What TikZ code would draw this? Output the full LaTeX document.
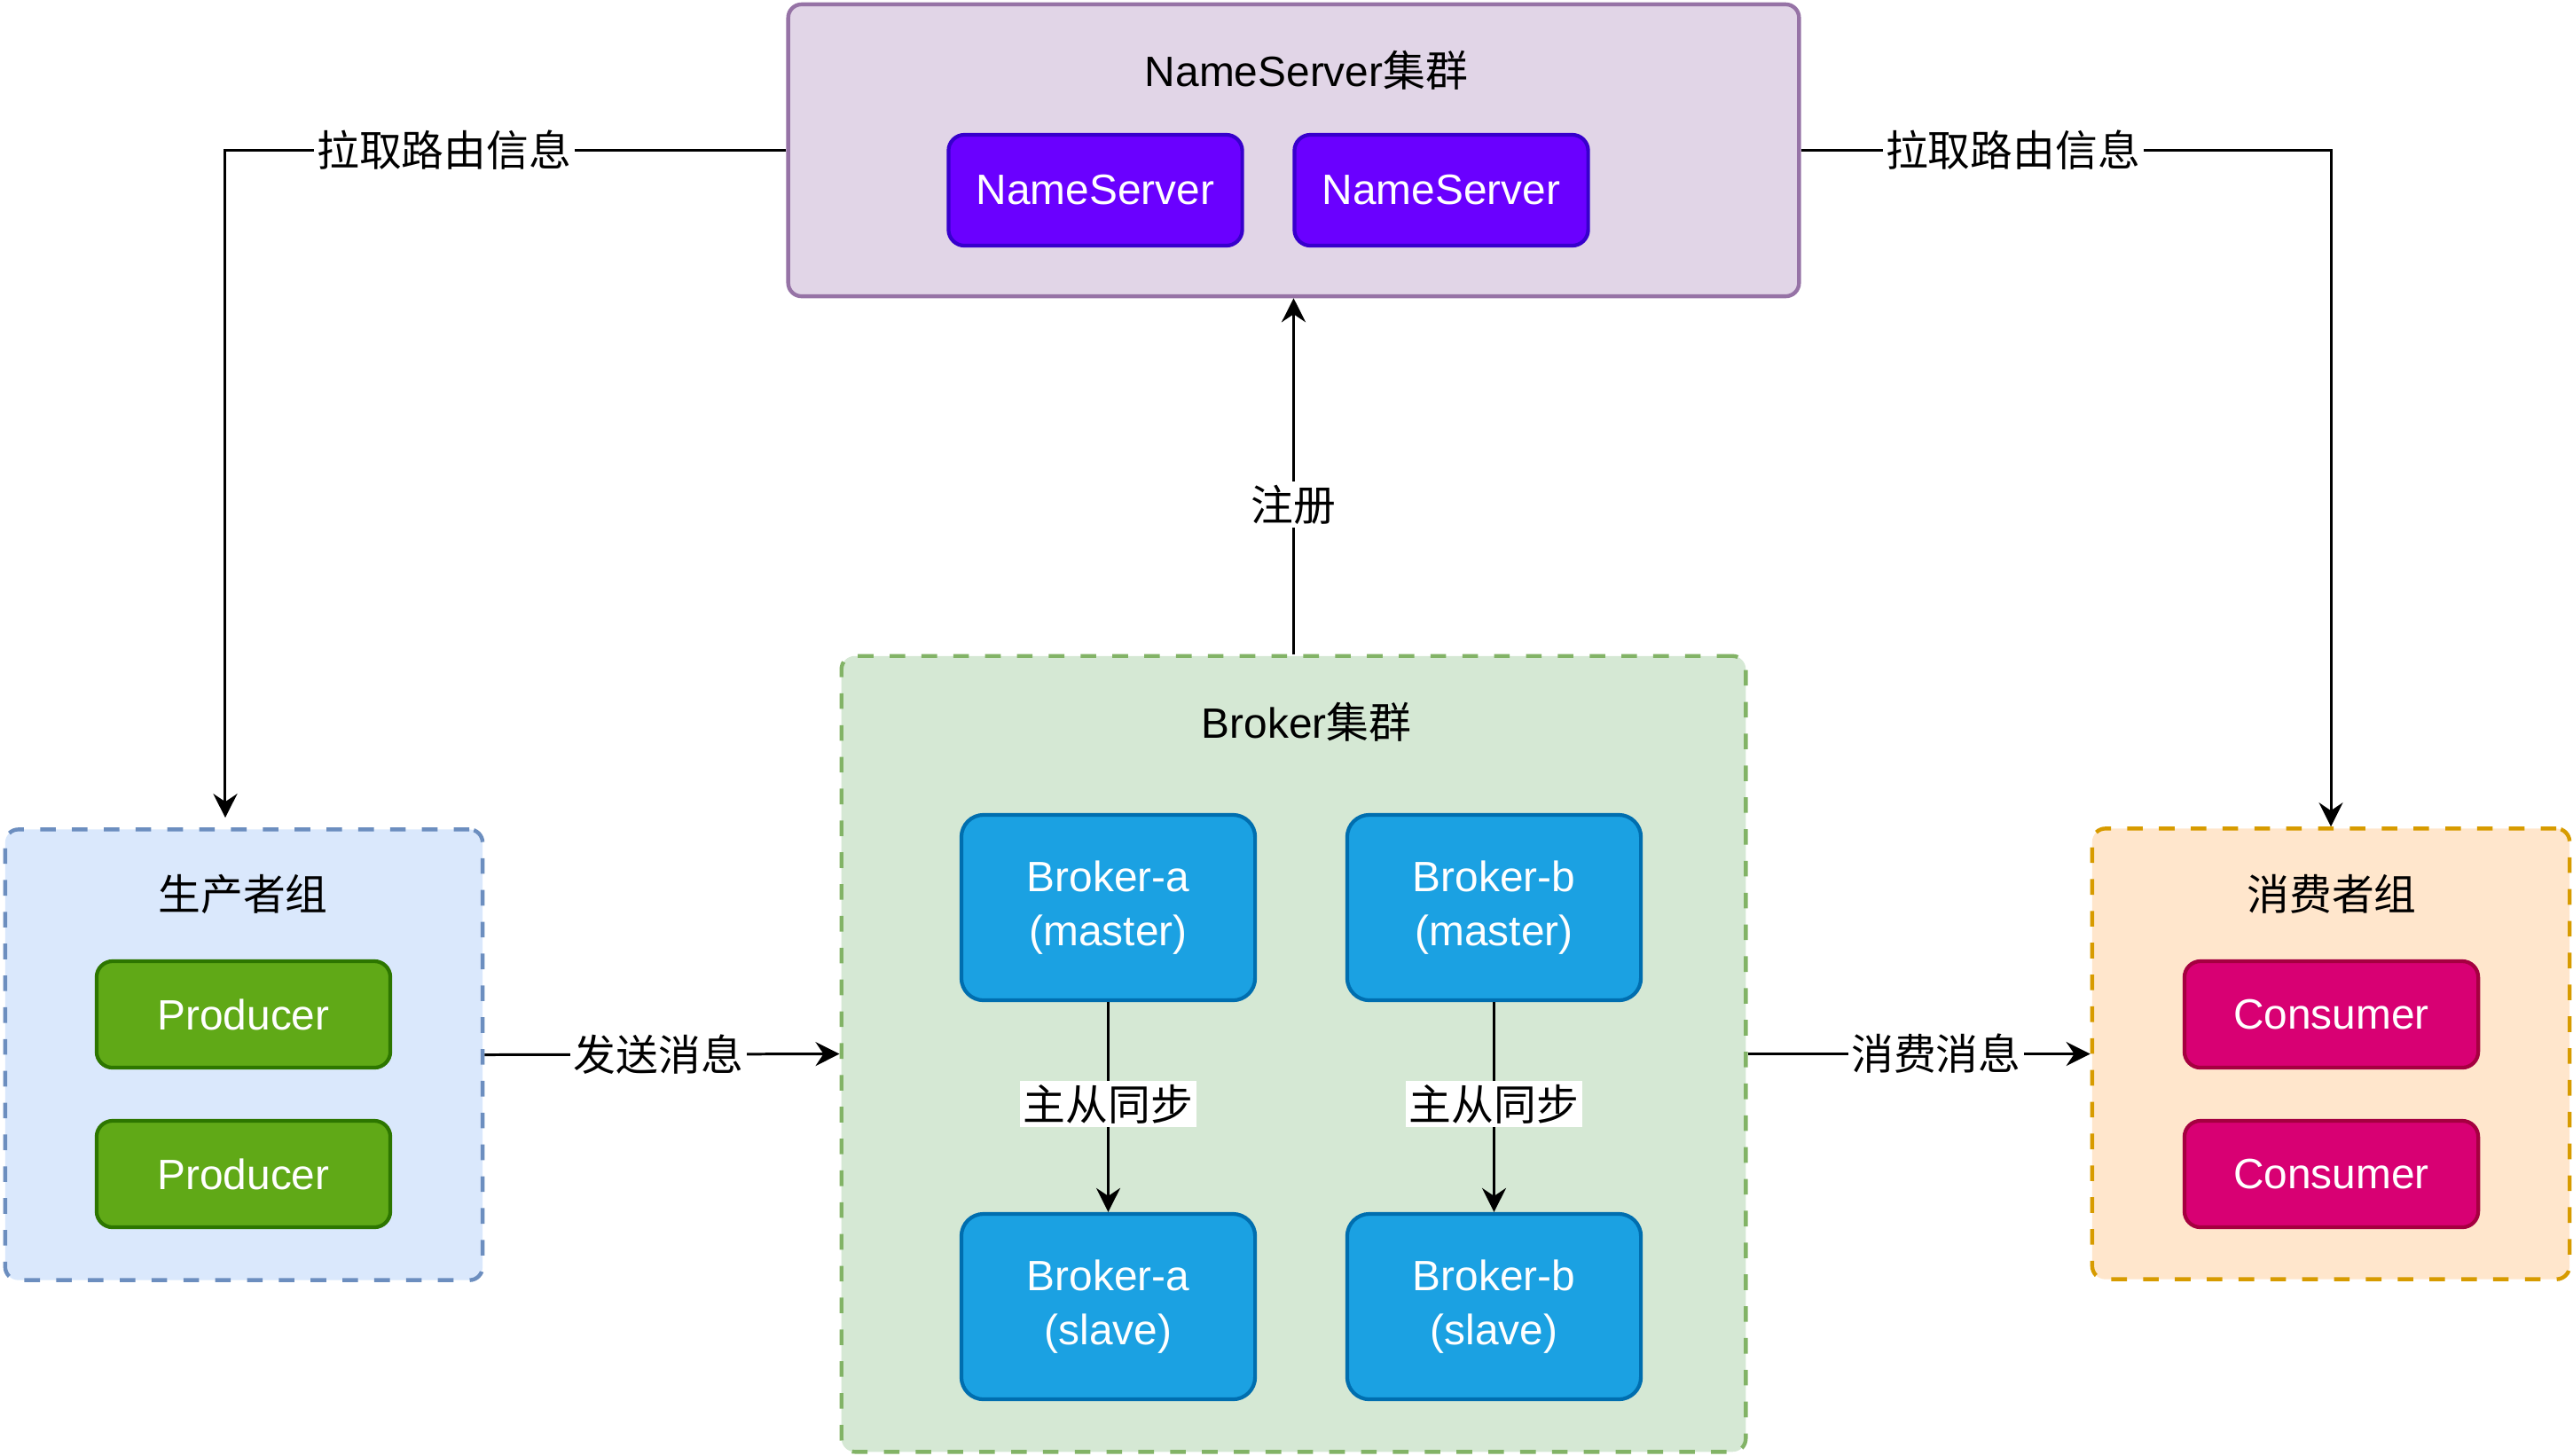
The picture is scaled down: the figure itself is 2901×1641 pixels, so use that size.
\documentclass[tikz,border=0pt]{standalone}
\usepackage{fontspec}
\setmainfont{Liberation Sans}
\newfontfamily\cjk{Noto Sans CJK SC}
\usepackage{xcolor}
\usepackage{tikz}
\usetikzlibrary{arrows.meta,positioning}

\definecolor{nsfill}{HTML}{E1D5E7}
\definecolor{nsline}{HTML}{9673A6}
\definecolor{nsbfill}{HTML}{6A00FF}
\definecolor{nsbline}{HTML}{3700CC}
\definecolor{pfill}{HTML}{DAE8FC}
\definecolor{pline}{HTML}{6C8EBF}
\definecolor{pbfill}{HTML}{60A917}
\definecolor{pbline}{HTML}{2D7600}
\definecolor{bfill}{HTML}{D5E8D4}
\definecolor{bline}{HTML}{82B366}
\definecolor{bbfill}{HTML}{1BA1E2}
\definecolor{bbline}{HTML}{006EAF}
\definecolor{cfill}{HTML}{FFE6CC}
\definecolor{cline}{HTML}{D79B00}
\definecolor{cbfill}{HTML}{D80073}
\definecolor{cbline}{HTML}{A50040}

\newcommand{\dfont}{\fontsize{13.6pt}{17.4pt}\selectfont}

\begin{document}
\begin{tikzpicture}[
    x=0.01cm, y=-0.01cm,
    grp/.style={rectangle, rounded corners=0.15cm, line width=1.25pt},
    nsg/.style={grp, draw=nsline, fill=nsfill, minimum width=11.39cm, minimum height=3.29cm},
    pg/.style={grp, draw=pline, fill=pfill, dash pattern=on 5pt off 5.2pt, minimum width=5.38cm, minimum height=5.08cm},
    bg/.style={grp, draw=bline, fill=bfill, dash pattern=on 5pt off 5.2pt, minimum width=10.19cm, minimum height=8.97cm},
    cg/.style={grp, draw=cline, fill=cfill, dash pattern=on 5pt off 5.2pt, minimum width=5.38cm, minimum height=5.08cm},
    box/.style={rectangle, rounded corners=0.18cm, line width=1.2pt, text=white, align=center, font=\dfont, minimum width=3.31cm, minimum height=1.2cm},
    nsb/.style={box, draw=nsbline, fill=nsbfill, minimum height=1.25cm},
    pb/.style={box, draw=pbline, fill=pbfill},
    bb/.style={box, draw=bbline, fill=bbfill, minimum height=2.09cm, rounded corners=0.25cm},
    cb/.style={box, draw=cbline, fill=cbfill},
    ttl/.style={font=\dfont, inner sep=1pt},
    arr/.style={-{Stealth[length=0.27cm, width=0.27cm, inset=0.09cm]}, line width=0.85pt},
    lbl/.style={fill=white, inner sep=1pt, font=\dfont\cjk}
]
    \useasboundingbox (0,0) rectangle (2901,1641);

    % groups
    \node [nsg] (nsg) at (1458.5,169.5) {};
    \node [pg] (pg) at (275,1189.5) {};
    \node [bg] (bg) at (1458.5,1188.5) {};
    \node [cg] (cg) at (2628,1188.5) {};

    \node [ttl] (nst) at (1473,79) {NameServer{\cjk 集群}};
    \node [ttl] (pt) at (274,1008) {\cjk 生产者组};
    \node [ttl] (bt) at (1473,814) {Broker{\cjk 集群}};
    \node [ttl] (ct) at (2629,1008) {\cjk 消费者组};

    % members
    \node [nsb] (ns1) at (1235,214.5) {NameServer};
    \node [nsb] (ns2) at (1625,214.5) {NameServer};

    \node [pb] (p1) at (274.5,1144) {Producer};
    \node [pb] (p2) at (274.5,1324) {Producer};

    \node [cb] (c1) at (2628.5,1144) {Consumer};
    \node [cb] (c2) at (2628.5,1324) {Consumer};

    \node [bb] (bam) at (1249.5,1023.5) {Broker-a\\(master)};
    \node [bb] (bbm) at (1684.5,1023.5) {Broker-b\\(master)};
    \node [bb] (bas) at (1249.5,1473.5) {Broker-a\\(slave)};
    \node [bb] (bbs) at (1684.5,1473.5) {Broker-b\\(slave)};

    % connectors
    \draw [arr, shorten >=0.11cm] (nsg.west) -| node [lbl, pos=0.305] {拉取路由信息} ([xshift=-0.21cm]pg.north);
    \draw [arr] (nsg.east) -| node [lbl, pos=0.2] {拉取路由信息} (cg.north);
    \draw [arr] (bg.north) -- node [lbl, pos=0.42] {注册} (nsg.south);
    \draw [arr] (pg.east) -- node [lbl, pos=0.49] {发送消息} (bg.west);
    \draw [arr] (bg.east) -- node [lbl, pos=0.55] {消费消息} (cg.west);
    \draw [arr] (bam) -- node [lbl, pos=0.485] {主从同步} (bas);
    \draw [arr] (bbm) -- node [lbl, pos=0.485] {主从同步} (bbs);
\end{tikzpicture}
\end{document}
